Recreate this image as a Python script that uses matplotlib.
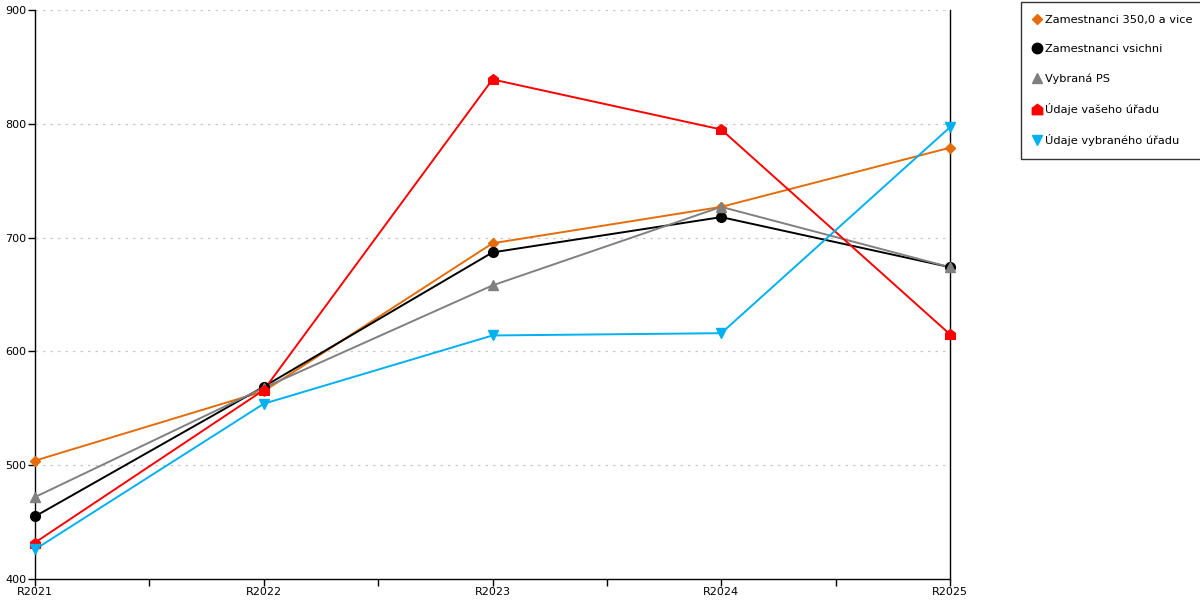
import matplotlib
matplotlib.use("Agg")
import matplotlib.pyplot as plt
from matplotlib.path import Path
from matplotlib.ticker import MultipleLocator

categories = ["R2021", "R2022", "R2023", "R2024", "R2025"]
zam_350 = [504, 565, 695, 727, 779]
zam_all = [455, 569, 687, 718, 674]
vybrana_ps = [472, 568, 658, 727, 674]
vas_urad = [432, 566, 839, 795, 615]
vybrany_urad = [426, 554, 614, 616, 797]

labels = ["Zamestnanci 350,0 a vice", "Zamestnanci vsichni", "Vybraná PS",
          "Údaje vašeho úřadu", "Údaje vybraného úřadu"]
colors = ["#e46c0a", "#000000", "#808080", "#ff0000", "#00b0f0"]

house = Path([(-1, -1), (1, -1), (1, 0.25), (0, 1), (-1, 0.25), (-1, -1)],
             [Path.MOVETO, Path.LINETO, Path.LINETO, Path.LINETO, Path.LINETO, Path.CLOSEPOLY])
markers = ["D", "o", "^", house, "v"]
msizes = [5, 7, 7, 7, 7]

fig = plt.figure(figsize=(12, 6), dpi=100)
ax = fig.add_axes([35/1200, 21/600, 915/1200, 569/600])

x = list(range(len(categories)))
series = [zam_350, zam_all, vybrana_ps, vas_urad, vybrany_urad]
handles = []
for s, lab, c, m, ms in zip(series, labels, colors, markers, msizes):
    ax.plot(x, s, color=c, lw=1.4, zorder=3, clip_on=False)
    ax.plot(x, s, color=c, lw=0, marker=m, markersize=ms, zorder=4, clip_on=False)
    h, = ax.plot([], [], color=c, lw=0, marker=m, markersize=ms + 0.5)
    handles.append(h)

ax.set_xlim(0, 4)
ax.set_ylim(400, 900)
ax.set_xticks(x)
ax.set_xticklabels(categories)
ax.xaxis.set_minor_locator(MultipleLocator(0.5))
ax.set_yticks([400, 500, 600, 700, 800, 900])
ax.tick_params(axis="both", which="both", length=5, width=1, labelsize=8, direction="out", pad=1)
ax.tick_params(axis="y", which="minor", length=0)
for yv in [500, 600, 700, 800, 900]:
    ax.axhline(yv, color="#c8c8c8", lw=0.9, ls=(0, (2, 4)), zorder=1)

ax.spines["top"].set_visible(False)
for sp in ["left", "bottom", "right"]:
    ax.spines[sp].set_color("black")
    ax.spines[sp].set_linewidth(1)

leg = fig.legend(handles, labels, loc="upper left", bbox_to_anchor=(1021/1200, 1 - 2/600),
                 fontsize=8.2, frameon=True, fancybox=False, edgecolor="black",
                 handlelength=0.5, handletextpad=0.5, labelspacing=1.68,
                 borderpad=1.15, borderaxespad=0)
leg.get_frame().set_linewidth(1)

fig.savefig("out.png", dpi=100)
